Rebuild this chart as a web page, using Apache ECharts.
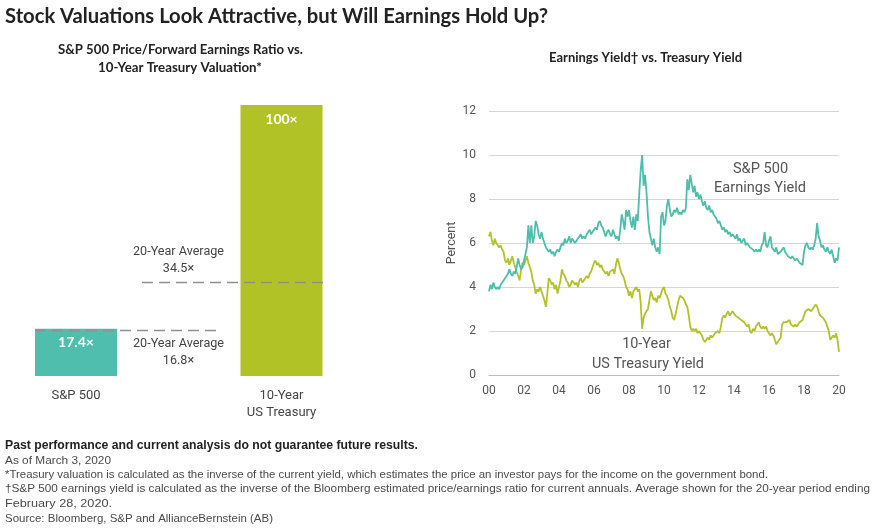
<!DOCTYPE html>
<html><head><meta charset="utf-8">
<script src="https://cdn.jsdelivr.net/npm/echarts@6/dist/echarts.min.js"></script>
<style>html,body{margin:0;padding:0;background:#fff}#c{width:880px;height:532px}</style>
</head><body><div id="c"></div>
<script>
// ---- data ----
const barCategories = ['S&P 500', '10-Year\nUS Treasury'];
const barValues = [17.4, 100];
const barLabels = ['17.4×', '100×'];
const averageValues = [16.8, 34.5];
const averageTitle = '20-Year Average';
const averageLabels = ['16.8×', '34.5×'];
const yTickMax = 12;
const yTickStep = 2;
const xTickLabels = ['00','02','04','06','08','10','12','14','16','18','20'];
const startYear = 2000;
const endYear = 2020;
// monthly, Jan 2000 .. Jan 2020
const treasuryYield = [
 6.3,6.5,6.1,5.9,6.2,6.0,5.9,5.8,5.9,5.7,5.6,5.2,
 5.1,5.3,5.0,5.2,5.4,5.1,4.9,4.7,4.5,4.3,4.8,5.1,
 5.0,5.2,5.4,5.1,4.9,4.7,4.3,4.1,3.7,3.9,3.8,4.0,
 3.8,3.6,3.4,3.1,3.7,4.4,4.3,4.1,4.2,3.9,4.1,3.7,
 3.7,4.3,4.8,4.6,4.5,4.3,4.2,4.0,4.1,4.3,4.2,4.1,
 4.2,4.0,4.3,4.4,4.2,4.3,4.4,4.5,4.4,4.6,4.7,4.9,
 5.1,5.2,5.0,5.1,4.9,5.0,4.8,4.7,4.6,4.7,4.5,4.7,
 4.7,4.8,4.6,5.0,5.3,5.1,4.8,4.6,4.5,4.3,4.0,3.9,
 3.6,3.8,3.5,3.8,3.9,4.0,3.8,3.9,3.3,2.1,2.6,2.8,
 2.9,3.0,3.4,3.8,3.6,3.4,3.5,3.3,3.6,3.5,3.7,3.9,
 4.0,3.7,3.6,3.4,3.1,2.9,2.6,2.5,2.8,3.1,3.4,3.6,
 3.6,3.5,3.4,3.2,3.1,2.7,2.2,2.0,2.1,2.0,2.1,1.9,
 2.0,1.9,1.8,1.6,1.5,1.6,1.7,1.6,1.8,1.7,1.8,1.9,
 1.9,2.0,1.9,2.2,2.6,2.7,2.6,2.8,2.9,2.7,2.8,2.9,
 2.8,2.7,2.7,2.6,2.6,2.5,2.5,2.4,2.3,2.2,2.3,2.0,
 1.9,2.1,2.0,2.2,2.3,2.4,2.2,2.1,2.2,2.1,2.2,2.0,
 2.0,1.8,1.9,1.8,1.6,1.4,1.5,1.6,1.7,2.3,2.4,2.4,
 2.4,2.4,2.5,2.3,2.3,2.2,2.3,2.2,2.3,2.4,2.4,2.5,
 2.7,2.9,2.9,3.0,3.0,2.9,3.0,3.1,3.2,3.1,2.9,2.7,
 2.7,2.6,2.5,2.4,2.2,2.0,1.6,1.6,1.8,1.7,1.9,1.6,
 1.05
];
const earningsYield = [
 3.8,4.1,3.9,4.2,4.0,3.9,4.0,3.9,4.1,4.2,4.3,4.4,
 4.5,4.6,4.8,4.6,4.5,4.7,4.6,4.9,5.3,5.0,4.8,4.9,
 5.2,5.5,5.8,6.8,6.0,6.8,6.0,6.3,7.0,6.8,6.4,6.2,
 6.5,6.2,6.0,5.8,5.7,5.6,5.7,5.5,5.6,5.4,5.6,5.7,
 5.6,5.8,6.0,5.9,6.2,6.0,6.1,6.3,6.0,6.2,6.1,6.0,
 6.1,6.2,6.3,6.4,6.2,6.3,6.2,6.4,6.5,6.6,6.4,6.5,
 6.5,6.7,6.6,6.9,7.0,6.8,6.7,6.5,6.3,6.5,6.6,6.4,
 6.3,6.6,6.4,6.2,6.3,6.1,6.6,7.3,7.0,6.6,7.5,7.2,
 7.5,7.0,6.7,7.2,6.6,7.3,7.0,8.2,9.3,10.0,8.6,9.1,
 8.3,7.2,6.5,6.2,5.9,6.2,5.8,5.6,5.8,5.5,7.2,7.4,
 6.8,7.0,7.7,8.0,7.5,7.2,7.3,7.5,7.4,7.6,7.3,7.4,
 7.3,7.5,7.4,7.6,8.9,8.4,9.1,8.7,8.3,8.6,8.1,8.3,
 8.0,8.2,7.9,7.7,7.9,7.6,7.5,7.7,7.4,7.5,7.3,7.2,
 7.1,6.9,7.0,6.8,6.6,6.7,6.5,6.6,6.4,6.5,6.3,6.4,
 6.3,6.2,6.4,6.1,6.2,6.0,6.1,6.2,5.9,6.0,5.9,5.8,
 5.8,5.7,5.6,5.7,5.6,5.7,5.6,5.9,6.0,6.5,5.9,5.8,
 6.1,6.3,5.8,5.7,5.6,5.8,5.5,5.5,5.6,5.7,5.8,5.6,
 5.5,5.4,5.4,5.3,5.4,5.3,5.2,5.3,5.2,5.1,5.1,5.0,
 5.6,5.9,6.0,5.8,5.7,5.8,5.7,5.9,6.2,6.9,6.3,6.1,
 5.8,5.9,5.7,5.6,5.8,5.6,5.5,5.7,5.4,5.1,5.3,5.2,
 5.8
];
const footnotes = [
 'As of March 3, 2020',
 '*Treasury valuation is calculated as the inverse of the current yield, which estimates the price an investor pays for the income on the government bond.',
 '\u2020S&P 500 earnings yield is calculated as the inverse of the Bloomberg estimated price/earnings ratio for current annuals. Average shown for the 20-year period ending',
 'February 28, 2020.',
 'Source: Bloomberg, S&P and AllianceBernstein (AB)'
];

// ---- styles / layout ----
const TEAL = '#50bead', LIME = '#b0c226';
const LINE_TEAL = '#4cbfaa', LINE_LIME = '#b2c22a';
const F_BOLD = 'Lato, "Open Sans", sans-serif';
const F_LIGHT = 'Roboto, "Liberation Sans", sans-serif';
const F_NOTE = '"Liberation Sans", Arial, sans-serif';
const avgSpans = [[-0.2, 0.68], [0.32, 1.2]];   // in category units (0 = first bar, 1 = second bar)
const footY = [461, 475, 489, 504, 519];
const footW = [106, 763, 865, 107, 268];

const ctx = document.createElement('canvas').getContext('2d');
function measure(text, font) { ctx.font = font; return ctx.measureText(text).width; }
function fitText(text, font, width, x, y, align, fill, scale) {
  const s = scale || width / measure(text, font);
  return {type:'text', x:x, y:y, scaleX:s, silent:true,
          style:{text:text, font:font, fill:fill, align:align, verticalAlign:'middle', x:0, y:0}};
}

const toPairs = arr => arr.map((v, i) => [startYear + i / 12, v]);
const chart = echarts.init(document.getElementById('c'), null, {renderer: 'canvas'});

const avgFont = '12.5px ' + F_LIGHT;
const avgScale = 91 / measure(averageTitle, avgFont);
const annFont = '15px ' + F_LIGHT;
const annScale1 = 92 / measure('Earnings Yield', annFont);
const annScale2 = 112 / measure('US Treasury Yield', annFont);

const graphics = [
  fitText('Stock Valuations Look Attractive, but Will Earnings Hold Up?', 'bold 20px ' + F_BOLD, 543, 5, 17, 'left', '#222'),
  fitText('S&P 500 Price/Forward Earnings Ratio vs.', 'bold 13px ' + F_BOLD, 245, 180.5, 50, 'center', '#222'),
  fitText('10-Year Treasury Valuation*', 'bold 13px ' + F_BOLD, 164, 180, 68, 'center', '#222'),
  fitText('Earnings Yield\u2020 vs. Treasury Yield', 'bold 13px ' + F_BOLD, 193, 645.5, 58, 'center', '#222'),
  fitText(averageTitle, avgFont, 0, 178.5, 252, 'center', '#444', avgScale),
  fitText(averageLabels[1], avgFont, 0, 178.5, 269, 'center', '#444', avgScale),
  fitText(averageTitle, avgFont, 0, 178.5, 344, 'center', '#444', avgScale),
  fitText(averageLabels[0], avgFont, 0, 178.5, 361, 'center', '#444', avgScale),
  fitText('S&P 500', annFont, 0, 760.5, 169, 'center', '#555', annScale1),
  fitText('Earnings Yield', annFont, 0, 760, 188, 'center', '#555', annScale1),
  fitText('10-Year', annFont, 0, 646.5, 344, 'center', '#555', annScale2),
  fitText('US Treasury Yield', annFont, 0, 648, 364, 'center', '#555', annScale2),
  fitText('Past performance and current analysis do not guarantee future results.', 'bold 12px ' + F_NOTE, 413, 5, 446, 'left', '#222')
];
footnotes.forEach((t, i) => graphics.push(fitText(t, '11.5px ' + F_NOTE, footW[i], 5, footY[i], 'left', '#4a4a4a')));

const option = {
  animation: false,
  backgroundColor: '#fff',
  grid: [
    {left: 76, width: 205.5, top: 105, height: 271},
    {left: 489, width: 350, top: 111, height: 264},
    {left: 35, width: 288, top: 105, height: 271}
  ],
  xAxis: [
    {type:'category', gridIndex:0, data: barCategories, boundaryGap:false,
     axisLine:{show:false}, axisTick:{show:false}, splitLine:{show:false},
     axisLabel:{color:'#444', fontSize:13, fontFamily:F_LIGHT, margin:11, lineHeight:17}},
    {type:'value', gridIndex:2, min:-0.2, max:1.2, show:false},
    {type:'value', gridIndex:1, min:startYear, max:endYear, interval:2,
     axisLine:{show:true, lineStyle:{color:'#bdbdbd', width:1}}, axisTick:{show:false}, splitLine:{show:false},
     axisLabel:{color:'#555', fontSize:12, fontFamily:F_LIGHT, margin:10,
                formatter: v => xTickLabels[Math.round((v - startYear) / 2)]}}
  ],
  yAxis: [
    {type:'value', gridIndex:0, min:0, max:100, show:false},
    {type:'value', gridIndex:1, min:0, max:yTickMax, interval:yTickStep,
     axisLine:{show:false}, axisTick:{show:false},
     splitLine:{lineStyle:{color:'#d6d6d6', width:1}},
     axisLabel:{color:'#555', fontSize:12, fontFamily:F_LIGHT, margin:13},
     name:'Percent', nameLocation:'middle', nameGap:31, nameRotate:90,
     nameTextStyle:{color:'#555', fontSize:12.5, fontFamily:F_LIGHT}},
    {type:'value', gridIndex:2, min:0, max:100, show:false}
  ],
  series: [
    {type:'bar', xAxisIndex:0, yAxisIndex:0, barWidth:82, clip:false,
     data: barValues.map((v, i) => ({value:v, itemStyle:{color: i === 0 ? TEAL : LIME}})),
     label:{show:true, position:'insideTop', distance:7, color:'#fff', fontWeight:'bold', fontSize:14, fontFamily:F_BOLD,
            formatter: p => barLabels[p.dataIndex]}},
    ...averageValues.map((v, i) => ({
      type:'line', xAxisIndex:1, yAxisIndex:2, symbol:'none', silent:true, z:5,
      lineStyle:{color:'#8f8f8f', width:1.4, type:[11,6]},
      data: avgSpans[i].map(x => [x, v])
    })),
    {type:'line', name:'10-Year US Treasury Yield', xAxisIndex:2, yAxisIndex:1, symbol:'none', data: toPairs(treasuryYield),
     lineStyle:{color:LINE_LIME, width:1.8}},
    {type:'line', name:'S&P 500 Earnings Yield', xAxisIndex:2, yAxisIndex:1, symbol:'none', data: toPairs(earningsYield),
     lineStyle:{color:LINE_TEAL, width:1.8}}
  ],
  graphic: graphics
};
chart.setOption(option);
</script>
</body></html>
